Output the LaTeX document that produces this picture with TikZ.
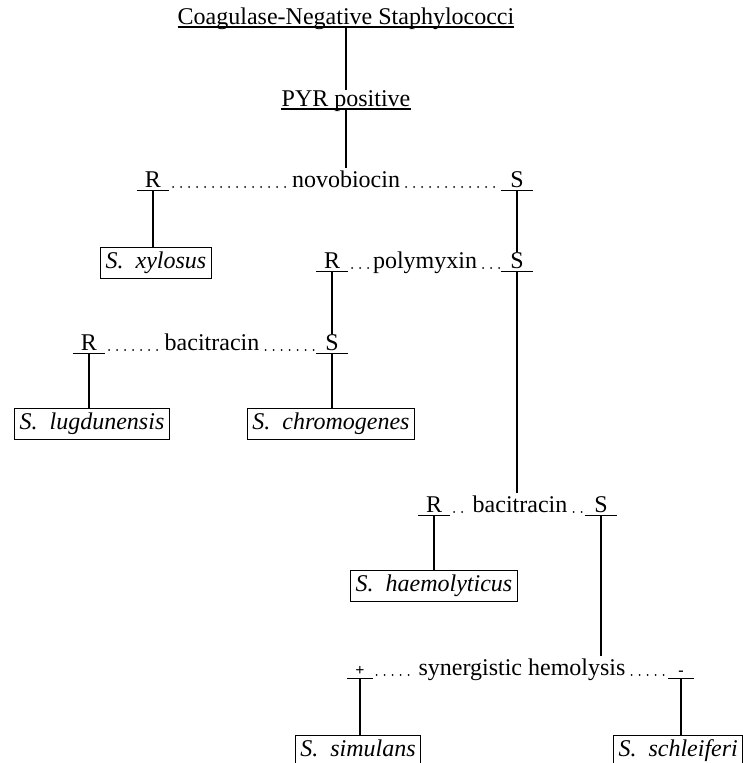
\documentclass[tikz,border=0pt]{standalone}
\usepackage{fontspec}
\setmainfont{Liberation Serif}
\usepackage{tikz}
\usetikzlibrary{positioning}

\newcommand{\spec}[1]{S.\ \ #1}

\begin{document}
\begin{tikzpicture}[
    x=1pt, y=-1pt,
    heading/.style={anchor=base, inner sep=0pt, font=\fontsize{24}{27}\selectfont},
    test/.style={anchor=base, inner sep=2pt, font=\fontsize{24}{27}\selectfont},
    result/.style={anchor=base, minimum width=32pt, inner xsep=0pt, inner ysep=3pt, font=\fontsize{24}{27}\selectfont},
    sign/.style={result, minimum width=25pt, font=\fontsize{16}{17}\selectfont\bfseries},
    species/.style={draw, anchor=north, line width=1.1pt, inner xsep=5pt, inner ysep=5pt, text height=16pt, text depth=5pt, font=\fontsize{24}{27}\selectfont\itshape},
    link/.style={line width=1.6pt},
    rule/.style={line width=1.1pt},
    dots/.style={line width=2pt, line cap=round, dash pattern=on 0pt off 8pt, shorten <=4pt, shorten >=1pt}
]
\clip (0,0) rectangle (743,763);

% Start
\node[heading] (title) at (346,24) {Coagulase-Negative Staphylococci};
\node[heading] (pyr) at (346,106) {PYR positive};
\draw[rule] ([yshift=-3pt]title.base west) -- ([yshift=-3pt]title.base east);
\draw[rule] ([yshift=-3pt]pyr.base west) -- ([yshift=-3pt]pyr.base east);
\draw[link] ([yshift=-3pt]title.base) -- (pyr.north);

% Novobiocin
\node[test] (novo) at (346,187) {novobiocin};
\node[result] (novoR) at (153,187) {R};
\node[result] (novoS) at (517,187) {S};
\draw[link] ([yshift=-3pt]pyr.base) -- (novo.north);
\draw[dots] (novoR.base east) -- (novo.base west);
\draw[dots] (novo.base east) -- (novoS.base west);

% Polymyxin
\node[test] (poly) at (425,268) {polymyxin};
\node[result] (polyR) at (332,268) {R};
\node[result] (polyS) at (517,268) {S};
\draw[link] (novoS.south) -- ([yshift=-3pt]polyS.north);
\draw[dots] (polyR.base east) -- (poly.base west);
\draw[dots] (poly.base east) -- (polyS.base west);

% Bacitracin (left)
\node[test] (baciL) at (212,350) {bacitracin};
\node[result] (baciLR) at (89,350) {R};
\node[result] (baciLS) at (332,350) {S};
\draw[link] (polyR.south) -- ([yshift=-3pt]baciLS.north);
\draw[dots] (baciLR.base east) -- (baciL.base west);
\draw[dots] (baciL.base east) -- (baciLS.base west);

% Bacitracin (right)
\node[test] (baciR) at (520,512) {bacitracin};
\node[result] (baciRR) at (434,512) {R};
\node[result] (baciRS) at (601,512) {S};
\draw[link] (polyS.south) -- (polyS.south |- baciR.north);
\draw[dots] (baciRR.base east) -- (baciR.base west);
\draw[dots] (baciR.base east) -- (baciRS.base west);

% Synergistic hemolysis
\node[test] (syn) at (522,675) {synergistic hemolysis};
\node[sign] (synP) at (360,675) {+};
\node[sign] (synN) at (681,675) {-};
\draw[link] (baciRS.south) -- (baciRS.south |- syn.north);
\draw[dots] (synP.base east) -- (syn.base west);
\draw[dots] (syn.base east) -- (synN.base west);

% Underlines
\foreach \n in {novoR,novoS,polyR,polyS,baciLR,baciLS,baciRR,baciRS,synP,synN}
    \draw[rule] (\n.south west) -- (\n.south east);

% Species
\node[species] (xylosus) at (156,247) {\spec{xylosus}};
\node[species] (lugdunensis) at (92,408) {\spec{lugdunensis}};
\node[species] (chromogenes) at (331,408) {\spec{chromogenes}};
\node[species] (haemolyticus) at (434,570) {\spec{haemolyticus}};
\node[species] (simulans) at (358,735) {\spec{simulans}};
\node[species, anchor=north west] (schleiferi) at (613,735) {\spec{schleiferi}};

\draw[link] (novoR.south) -- (novoR.south |- xylosus.north);
\draw[link] (baciLR.south) -- (baciLR.south |- lugdunensis.north);
\draw[link] (baciLS.south) -- (baciLS.south |- chromogenes.north);
\draw[link] (baciRR.south) -- (baciRR.south |- haemolyticus.north);
\draw[link] (synP.south) -- (synP.south |- simulans.north);
\draw[link] (synN.south) -- (synN.south |- schleiferi.north);

\end{tikzpicture}
\end{document}
